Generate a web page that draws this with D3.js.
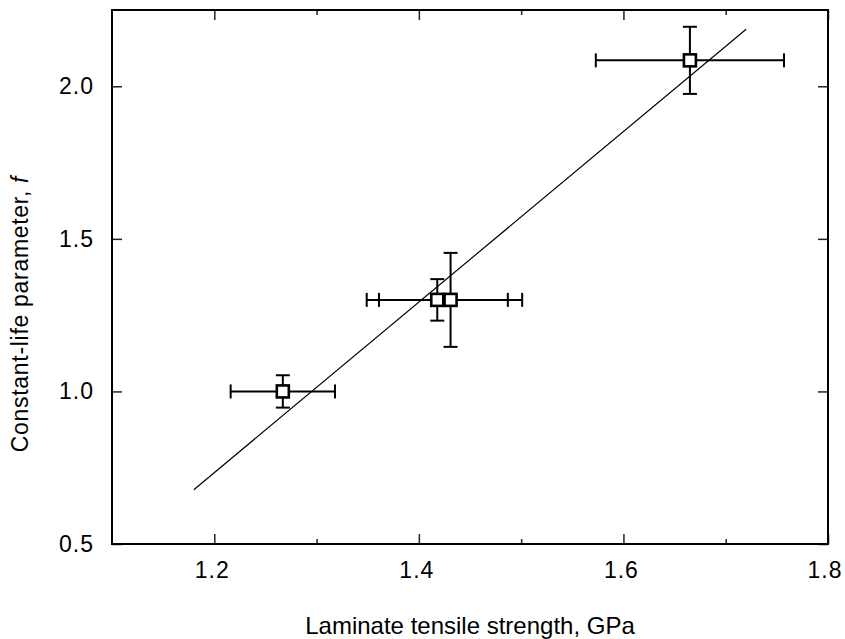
<!DOCTYPE html>
<html>
<head>
<meta charset="utf-8">
<script src="https://cdn.jsdelivr.net/npm/d3@7"></script>
<style>
  html, body { margin: 0; padding: 0; background: #fff; }
  svg { display: block; }
  text { font-family: "Liberation Sans", Arial, sans-serif; fill: #000; }
</style>
</head>
<body>
<svg id="chart" width="845" height="639"></svg>
<script>
// Measured laminates: tensile strength (GPa) vs constant-life parameter f
const strength    = [1.267, 1.418, 1.431, 1.665];
const strengthErr = [0.051, 0.069, 0.070, 0.092];
const paramF      = [1.000, 1.300, 1.300, 2.085];
const paramFErr   = [0.053, 0.068, 0.154, 0.110];

// Linear fit through the data
const fitX = [1.18, 1.72];
const fitY = [0.678, 2.187];

const xTicks      = [1.2, 1.4, 1.6, 1.8];
const xMinorTicks = [1.3, 1.5, 1.7];
const yTicks      = [0.5, 1.0, 1.5, 2.0];

const svg = d3.select("#chart");
const m = { left: 112, right: 828, top: 10, bottom: 544 };

const x = d3.scaleLinear().domain([1.1, 1.8]).range([m.left, m.right]);
const y = d3.scaleLinear().domain([0.5, 2.25]).range([m.bottom, m.top]);

const fmt = d3.format(".1f");
const major = 10, minor = 5;

// Inward ticks on all four sides
function tickAxis(axisFn, scale, values, size, at) {
  const g = svg.append("g").attr("transform", at)
    .call(axisFn(scale).tickValues(values).tickSize(size).tickFormat(""));
  g.select(".domain").remove();
  g.selectAll(".tick line").attr("stroke", "#222").attr("stroke-width", 1.5);
  return g;
}

tickAxis(d3.axisTop, x, xTicks, major, `translate(0,${m.bottom})`);
tickAxis(d3.axisTop, x, xMinorTicks, minor, `translate(0,${m.bottom})`);
tickAxis(d3.axisBottom, x, xTicks, major, `translate(0,${m.top})`);
tickAxis(d3.axisBottom, x, xMinorTicks, minor, `translate(0,${m.top})`);
tickAxis(d3.axisRight, y, yTicks, major, `translate(${m.left},0)`);
tickAxis(d3.axisLeft, y, yTicks, major, `translate(${m.right},0)`);

// tick labels
svg.append("g").selectAll("text").data(xTicks).join("text")
  .attr("x", (d, i) => x(d) - (i === xTicks.length - 1 ? 3 : 2))
  .attr("y", 577.5)
  .attr("text-anchor", "middle")
  .style("font-size", "23px")
  .style("letter-spacing", "1px")
  .text(fmt);

svg.append("g").selectAll("text").data(yTicks).join("text")
  .attr("x", 94)
  .attr("y", d => y(d) + 8)
  .attr("text-anchor", "end")
  .style("font-size", "23px")
  .style("letter-spacing", "1px")
  .text(fmt);

// frame
svg.append("rect")
  .attr("x", m.left).attr("y", m.top)
  .attr("width", m.right - m.left).attr("height", m.bottom - m.top)
  .attr("fill", "none").attr("stroke", "#000").attr("stroke-width", 2);

// fit line
svg.append("path")
  .datum(fitX.map((v, i) => [v, fitY[i]]))
  .attr("d", d3.line().x(d => x(d[0])).y(d => y(d[1])))
  .attr("fill", "none").attr("stroke", "#000").attr("stroke-width", 1.2);

// error bars
const pts = strength.map((v, i) => ({ x: v, xe: strengthErr[i], y: paramF[i], ye: paramFErr[i] }));
const cap = 7;
const eb = svg.append("g").attr("stroke", "#000").attr("stroke-width", 2).attr("fill", "none");
pts.forEach(p => {
  const cx = x(p.x), cy = y(p.y);
  const x0 = x(p.x - p.xe), x1 = x(p.x + p.xe);
  const y0 = y(p.y - p.ye), y1 = y(p.y + p.ye);
  eb.append("line").attr("x1", x0).attr("x2", x1).attr("y1", cy).attr("y2", cy);
  eb.append("line").attr("x1", x0).attr("x2", x0).attr("y1", cy - cap).attr("y2", cy + cap);
  eb.append("line").attr("x1", x1).attr("x2", x1).attr("y1", cy - cap).attr("y2", cy + cap);
  eb.append("line").attr("x1", cx).attr("x2", cx).attr("y1", y0).attr("y2", y1);
  eb.append("line").attr("x1", cx - cap).attr("x2", cx + cap).attr("y1", y0).attr("y2", y0);
  eb.append("line").attr("x1", cx - cap).attr("x2", cx + cap).attr("y1", y1).attr("y2", y1);
});

// square markers
const s = 12;
svg.append("g").selectAll("rect").data(pts).join("rect")
  .attr("x", d => x(d.x) - s / 2).attr("y", d => y(d.y) - s / 2)
  .attr("width", s).attr("height", s)
  .attr("fill", "#fff").attr("stroke", "#000").attr("stroke-width", 2.6);

// axis titles
svg.append("text")
  .attr("x", (m.left + m.right) / 2)
  .attr("y", 634)
  .attr("text-anchor", "middle")
  .style("font-size", "24px")
  .text("Laminate tensile strength, GPa");

const yl = svg.append("text")
  .attr("transform", "translate(28,314) rotate(-90)")
  .attr("text-anchor", "middle")
  .style("font-size", "23px")
  .style("letter-spacing", "0.7px");
yl.append("tspan").text("Constant-life parameter, ");
yl.append("tspan").style("font-style", "italic").text("f");
</script>
</body>
</html>
